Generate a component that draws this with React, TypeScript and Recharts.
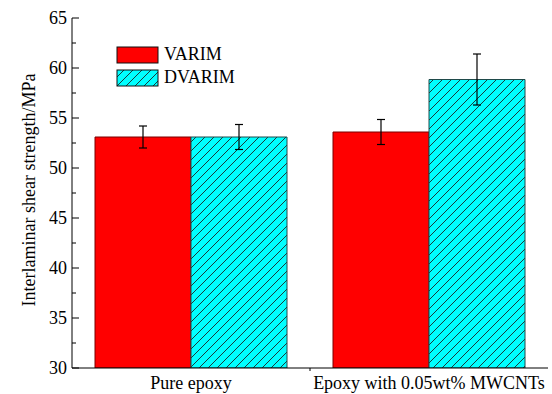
import React from 'react';
import { BarChart, Bar, XAxis, YAxis, ErrorBar, Legend } from 'recharts';

const categories = ['Pure epoxy', 'Epoxy with 0.05wt% MWCNTs'];
const varimValues = [53.1, 53.6];
const varimErrors = [1.1, 1.25];
const dvarimValues = [53.1, 58.85];
const dvarimErrors = [1.25, 2.55];
const yTicks = [30, 32.5, 35, 37.5, 40, 42.5, 45, 47.5, 50, 52.5, 55, 57.5, 60, 62.5, 65];
const seriesNames = ['VARIM', 'DVARIM'];

const data = categories.map((c, i) => ({
  name: c,
  varim: varimValues[i],
  varimErr: varimErrors[i],
  dvarim: dvarimValues[i],
  dvarimErr: dvarimErrors[i],
}));

const FONT = '"Liberation Serif", "Times New Roman", serif';
const Y_TICK_MARGIN = 5;
const X_TICK_MARGIN = 8;

const YTick = (props: any) => {
  const { x, y, payload } = props;
  const v = payload.value;
  const major = Math.abs(v % 5) < 1e-6;
  const ax = x + Y_TICK_MARGIN;
  return (
    <g>
      <line x1={ax} x2={ax + (major ? 7 : 4)} y1={y} y2={y} stroke="#000" strokeWidth={1} />
      {major && (
        <text x={x} y={y} dy="0.35em" textAnchor="end" fontFamily={FONT} fontSize={18} fill="#000">
          {v}
        </text>
      )}
    </g>
  );
};

const XTick = (props: any) => {
  const { x, y, payload, index } = props;
  const off = payload && payload.offset ? payload.offset : 0;
  const axisY = y - X_TICK_MARGIN;
  return (
    <g>
      <text x={x} y={y} dy="0.71em" textAnchor="middle" fontFamily={FONT} fontSize={18} fill="#000">
        {payload.value}
      </text>
      {index === 0 && off > 0 && (
        <line x1={x + off} x2={x + off} y1={axisY} y2={axisY + 3} stroke="#000" />
      )}
    </g>
  );
};

const YLabel = (props: any) => {
  const vb = props.viewBox || { x: 0, y: 18, width: 72, height: 350 };
  const cx = vb.x + vb.width / 2 - 7;
  const cy = vb.y + vb.height / 2 - 3;
  return (
    <text
      x={cx}
      y={cy}
      transform={`rotate(-90, ${cx}, ${cy})`}
      textAnchor="middle"
      dy="0.35em"
      fontFamily={FONT}
      fontSize={18}
      fill="#000"
    >
      {props.value}
    </text>
  );
};

const LegendContent = (props: any) => {
  const { payload } = props;
  const items = [...(payload || [])].sort(
    (a: any, b: any) => seriesNames.indexOf(a.value) - seriesNames.indexOf(b.value)
  );
  return (
    <div style={{ fontFamily: FONT, fontSize: 18, color: '#000', lineHeight: '23px' }}>
      {items.map((entry: any, i: number) => (
        <div key={i} style={{ display: 'flex', alignItems: 'center', height: 23 }}>
          <svg width={44} height={18} style={{ display: 'block' }}>
            <rect x={1} y={1} width={41} height={16} fill={entry.color} stroke="#111" strokeWidth={1} />
          </svg>
          <span style={{ marginLeft: 4 }}>{entry.value}</span>
        </div>
      ))}
    </div>
  );
};

export default function App() {
  return (
    <div style={{ position: 'absolute', left: 0, top: 0, width: 552, height: 394, background: '#fff' }}>
      <svg width={0} height={0} style={{ position: 'absolute' }}>
        <defs>
          <pattern id="hatch" patternUnits="userSpaceOnUse" width={9} height={9}>
            <rect width={9} height={9} fill="#00FFFF" />
            <path
              d="M0,9 L9,0 M-2.25,2.25 L2.25,-2.25 M6.75,11.25 L11.25,6.75"
              stroke="#1b3b3b"
              strokeWidth={1}
            />
          </pattern>
        </defs>
      </svg>
      <BarChart
        width={552}
        height={394}
        data={data}
        margin={{ top: 18, right: 4, left: 0, bottom: 0 }}
        barCategoryGap={23}
        barGap={0}
      >
        <XAxis
          dataKey="name"
          height={26}
          tickSize={0}
          tickLine={false}
          tickMargin={X_TICK_MARGIN}
          tick={<XTick />}
          axisLine={{ stroke: '#000', strokeWidth: 1 }}
          interval={0}
        />
        <XAxis
          xAxisId="top"
          orientation="top"
          dataKey="name"
          height={0}
          tick={false}
          tickLine={false}
          axisLine={{ stroke: '#888', strokeWidth: 1 }}
        />
        <YAxis
          width={72}
          domain={[30, 65]}
          ticks={yTicks}
          interval={0}
          tickSize={0}
          tickLine={false}
          tickMargin={Y_TICK_MARGIN}
          tick={<YTick />}
          axisLine={{ stroke: '#000', strokeWidth: 1 }}
          allowDataOverflow
          label={<YLabel value="Interlaminar shear strength/MPa" />}
        />
        <YAxis
          yAxisId="right"
          orientation="right"
          width={0}
          domain={[30, 65]}
          tick={false}
          tickLine={false}
          axisLine={{ stroke: '#000', strokeWidth: 1 }}
        />
        <Legend
          layout="horizontal"
          verticalAlign="middle"
          align="center"
          wrapperStyle={{ top: 43, left: 116, width: 'auto' }}
          content={<LegendContent />}
        />
        <Bar dataKey="varim" name={seriesNames[0]} fill="#FF0000" stroke="#7a0000" strokeWidth={1} isAnimationActive={false}>
          <ErrorBar dataKey="varimErr" width={4} stroke="#000" strokeWidth={1.2} direction="y" />
        </Bar>
        <Bar dataKey="dvarim" name={seriesNames[1]} fill="url(#hatch)" stroke="#1f4a4a" strokeWidth={1} isAnimationActive={false}>
          <ErrorBar dataKey="dvarimErr" width={4} stroke="#000" strokeWidth={1.2} direction="y" />
        </Bar>
      </BarChart>
    </div>
  );
}
